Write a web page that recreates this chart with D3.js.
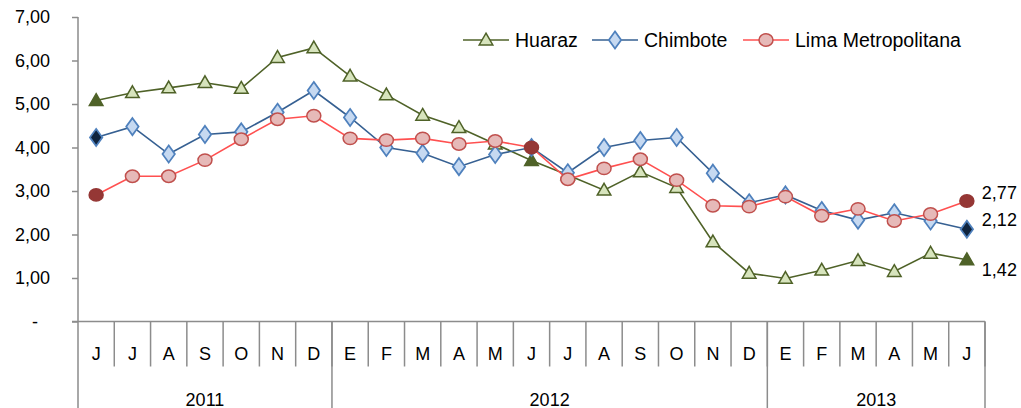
<!DOCTYPE html>
<html>
<head>
<meta charset="utf-8">
<script src="https://cdn.jsdelivr.net/npm/d3@7"></script>
<style>
  body { margin: 0; background: #fff; }
  svg { display: block; font-family: "Liberation Sans", Arial, sans-serif; }
</style>
</head>
<body>
<svg id="chart" width="1021" height="408"></svg>
<script>
// months jun 2011 .. jun 2013
const months = ["J","J","A","S","O","N","D","E","F","M","A","M","J","J","A","S","O","N","D","E","F","M","A","M","J"];
const years = ["2011", "2012", "2013"];
const yearSpans = [7, 12, 6];

const huaraz = [5.08, 5.26, 5.37, 5.49, 5.36, 6.07, 6.29, 5.64, 5.21, 4.74, 4.46, 4.08, 3.70,
    3.37, 3.02, 3.44, 3.08, 1.83, 1.11, 0.99, 1.18, 1.40, 1.15, 1.57, 1.42];
const chimbote = [4.23, 4.48, 3.85, 4.30, 4.36, 4.81, 5.31, 4.69, 4.00, 3.87, 3.56, 3.84, 4.00,
    3.42, 4.00, 4.16, 4.23, 3.41, 2.73, 2.91, 2.55, 2.33, 2.50, 2.31, 2.12];
const lima = [2.91, 3.34, 3.34, 3.71, 4.19, 4.65, 4.73, 4.21, 4.17, 4.21, 4.08, 4.15, 4.00,
    3.27, 3.52, 3.73, 3.25, 2.66, 2.64, 2.87, 2.43, 2.59, 2.31, 2.47, 2.77];

const seriesNames = ["Huaraz", "Chimbote", "Lima Metropolitana"];
const highlightIdx = [0, 12, 24];
const yTicks = [0, 1, 2, 3, 4, 5, 6, 7];

const series = [
    { name: seriesNames[0], values: huaraz, line: "#4F6228", fill: "#D7E4BD", stroke: "#4F6228", dark: "#4F6228", shape: "triangle" },
    { name: seriesNames[1], values: chimbote, line: "#366092", fill: "#C6D9F1", stroke: "#4F81BD", dark: "#0F243E", shape: "diamond" },
    { name: seriesNames[2], values: lima, line: "#FF5050", fill: "#E6B9B8", stroke: "#C0504D", dark: "#953735", shape: "circle" }
];

const margin = { top: 17, left: 78 };
const width = 907, height = 304.5;
const axisColor = "#8c8c8c";

const svg = d3.select("#chart");
const g = svg.append("g").attr("transform", `translate(${margin.left},${margin.top})`);

const x = d3.scaleBand().domain(d3.range(months.length)).range([0, width]).padding(0);
const y = d3.scaleLinear().domain([0, 7]).range([height, 0]);
const cx = i => x(i) + x.bandwidth() / 2;

const fmt = v => v === 0 ? "-" : d3.format(".2f")(v).replace(".", ",");

// y axis
const yAxis = g.append("g").call(d3.axisLeft(y).tickValues(yTicks).tickSize(6).tickPadding(22).tickFormat(fmt));
yAxis.select(".domain").attr("stroke", axisColor).attr("stroke-width", 1.5);
yAxis.selectAll(".tick line").attr("stroke", axisColor).attr("stroke-width", 1.5);
yAxis.selectAll(".tick text")
    .attr("font-size", 18)
    .attr("font-family", "Liberation Sans, Arial, sans-serif")
    .attr("fill", "#000")
    .attr("dx", d => d === 0 ? -12 : 0);
yAxis.select(".domain").attr("d", `M-6,${height}H0V${y(7)}V${height + 87}`);

// x axis baseline
g.append("line")
    .attr("x1", 0).attr("x2", width)
    .attr("y1", height).attr("y2", height)
    .attr("stroke", axisColor).attr("stroke-width", 1.5);

// month dividers
g.selectAll(".mdiv")
    .data(d3.range(1, months.length + 1))
    .join("line")
    .attr("class", "mdiv")
    .attr("x1", i => i < months.length ? x(i) : width)
    .attr("x2", i => i < months.length ? x(i) : width)
    .attr("y1", height).attr("y2", height + 45)
    .attr("stroke", axisColor).attr("stroke-width", 1.5);

g.selectAll(".mlab")
    .data(months)
    .join("text")
    .attr("class", "mlab")
    .attr("x", (d, i) => cx(i))
    .attr("y", height + 38)
    .attr("text-anchor", "middle")
    .attr("font-size", 18)
    .text(d => d);

// year groups
const yearStarts = yearSpans.map((s, i) => d3.sum(yearSpans.slice(0, i)));
yearStarts.forEach((st, i) => {
    const x0 = x(st);
    const end = st + yearSpans[i];
    const x1 = end < months.length ? x(end) : width;
    g.append("line")
        .attr("x1", x1).attr("x2", x1)
        .attr("y1", height).attr("y2", height + 87)
        .attr("stroke", axisColor).attr("stroke-width", 1.5);
    g.append("text")
        .attr("x", (x0 + x1) / 2)
        .attr("y", height + 84)
        .attr("text-anchor", "middle")
        .attr("font-size", 18)
        .text(years[i]);
});

// markers
function drawMarker(sel, shape, px, py, fill, stroke) {
    if (shape === "circle") {
        sel.append("ellipse").attr("cx", px).attr("cy", py).attr("rx", 7).attr("ry", 6.2)
            .attr("fill", fill).attr("stroke", stroke).attr("stroke-width", 1.5);
    } else {
        const type = shape === "triangle" ? d3.symbolTriangle : d3.symbolDiamond;
        const size = shape === "triangle" ? 80 : 85;
        sel.append("path")
            .attr("d", d3.symbol().type(type).size(size)())
            .attr("transform", shape === "diamond"
                ? `translate(${px},${py}) scale(1.25,1)`
                : `translate(${px},${py + 1})`)
            .attr("fill", fill).attr("stroke", stroke).attr("stroke-width", 1.5);
    }
}

const line = d3.line().x((d, i) => cx(i)).y(d => y(d));

series.forEach(s => {
    const sg = g.append("g");
    sg.append("path")
        .datum(s.values)
        .attr("d", line)
        .attr("fill", "none")
        .attr("stroke", s.line)
        .attr("stroke-width", 1.6);
    s.values.forEach((v, i) => {
        const hl = highlightIdx.includes(i);
        drawMarker(sg, s.shape, cx(i), y(v), hl ? s.dark : s.fill, hl && s.shape !== "diamond" ? s.dark : s.stroke);
    });
});

// end labels
const lastIdx = months.length - 1;
const labelOffsets = [10, -10, -8];
series.forEach((s, k) => {
    g.append("text")
        .attr("x", cx(lastIdx) + 15)
        .attr("y", y(s.values[lastIdx]) + labelOffsets[k])
        .attr("dy", "0.35em")
        .attr("font-size", 18)
        .text(fmt(s.values[lastIdx]));
});

// legend
const legendX = [463, 592, 743];
const leg = svg.append("g").attr("transform", "translate(0,40)");
series.forEach((s, k) => {
    const lx = legendX[k];
    leg.append("line")
        .attr("x1", lx).attr("x2", lx + 46)
        .attr("y1", 0).attr("y2", 0)
        .attr("stroke", s.line).attr("stroke-width", 1.6);
    drawMarker(leg, s.shape, lx + 23, 0, s.fill, s.stroke);
    leg.append("text")
        .attr("x", lx + 52)
        .attr("y", 0)
        .attr("dy", "0.35em")
        .attr("font-size", 19.5)
        .text(s.name);
});
</script>
</body>
</html>
